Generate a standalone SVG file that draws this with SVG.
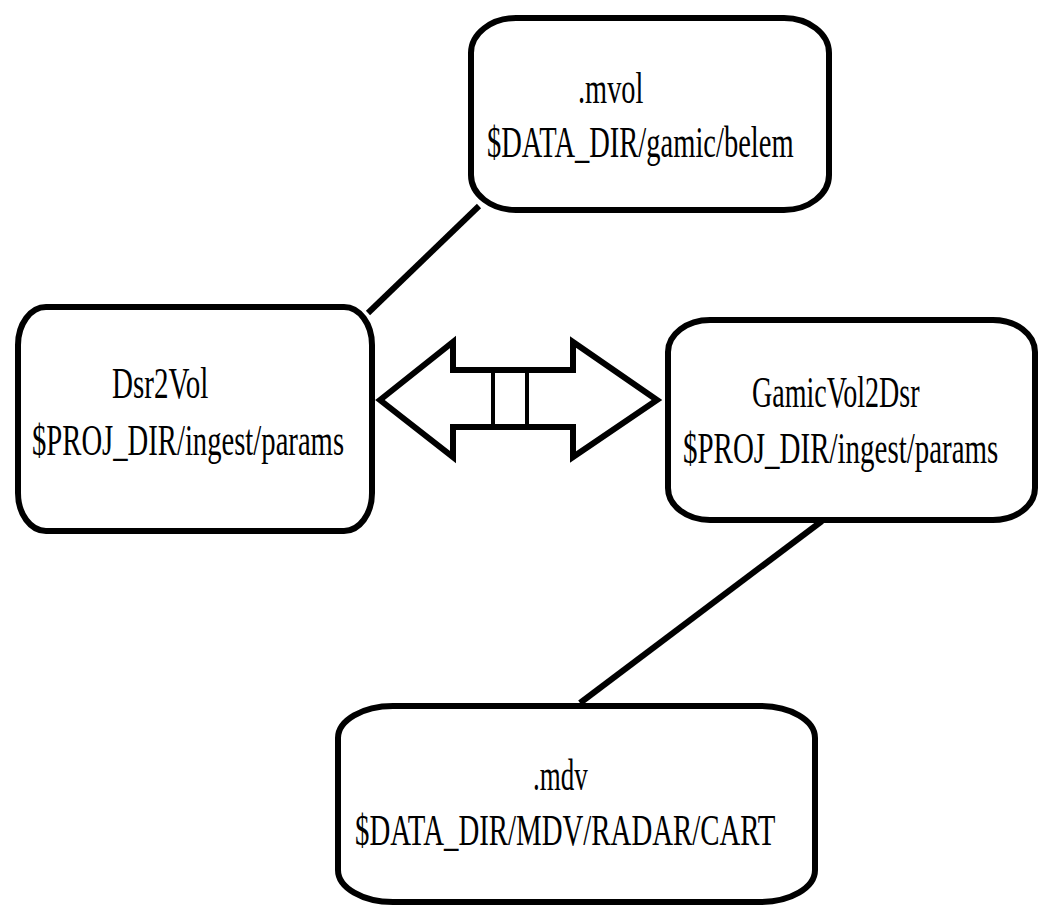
<svg xmlns="http://www.w3.org/2000/svg" width="1041" height="907" viewBox="0 0 1041 907">
<style>
.box{fill:#fff;stroke:#000;stroke-width:6}
.lbl{font-family:"Liberation Serif","Times New Roman",serif;font-size:45px;fill:#000}
.conn{stroke:#000;stroke-width:6;fill:none}
</style>
<rect width="1041" height="907" fill="#fff"/>
<g id="connectors">
<line class="conn" x1="368" y1="313" x2="479" y2="206"/>
<line class="conn" x1="580" y1="703" x2="822" y2="521"/>
<g id="double-arrow">
<polygon points="380,400 453,342 453,370 573,370 573,342 657,400 573,457 573,427 453,427 453,457" fill="#fff" stroke="#000" stroke-width="6" stroke-linejoin="miter"/>
<line x1="493" y1="370" x2="493" y2="427" stroke="#000" stroke-width="4"/>
<line x1="527" y1="370" x2="527" y2="427" stroke="#000" stroke-width="4"/>
</g>
</g>
<g id="node-mvol">
<rect class="box" x="471" y="18" width="358" height="192" rx="45" ry="35"/>
<text class="lbl" transform="translate(578,103) scale(0.63,1)">.mvol</text>
<text class="lbl" transform="translate(487,157) scale(0.634,1)">$DATA_DIR/gamic/belem</text>
</g>
<g id="node-dsr2vol">
<rect class="box" x="18" y="307" width="354" height="224" rx="28" ry="38"/>
<text class="lbl" transform="translate(112,398) scale(0.645,1)">Dsr2Vol</text>
<text class="lbl" transform="translate(32,455) scale(0.637,1)">$PROJ_DIR/ingest/params</text>
</g>
<g id="node-gamicvol2dsr">
<rect class="box" x="668" y="320" width="367" height="200" rx="42" ry="32"/>
<text class="lbl" transform="translate(752,407) scale(0.623,1)">GamicVol2Dsr</text>
<text class="lbl" transform="translate(683,463) scale(0.644,1)">$PROJ_DIR/ingest/params</text>
</g>
<g id="node-mdv">
<rect class="box" x="338" y="706" width="477" height="196" rx="55" ry="32"/>
<text class="lbl" transform="translate(533,790) scale(0.60,1)">.mdv</text>
<text class="lbl" transform="translate(355,845) scale(0.641,1)">$DATA_DIR/MDV/RADAR/CART</text>
</g>
</svg>
